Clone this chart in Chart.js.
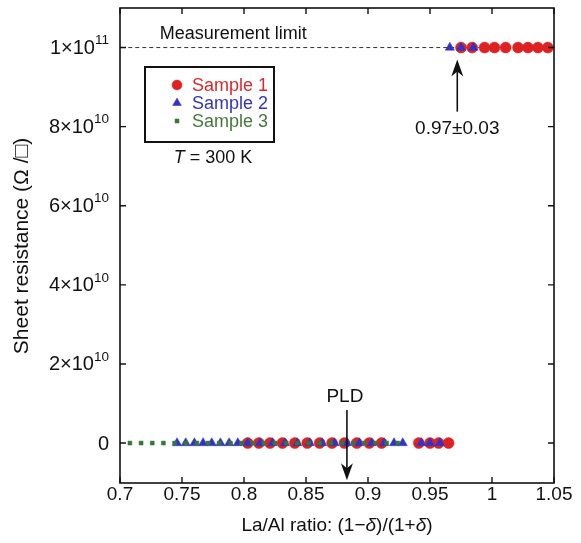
<!DOCTYPE html>
<html><head><meta charset="utf-8">
<script src="https://cdn.jsdelivr.net/npm/chart.js@4/dist/chart.umd.min.js"></script>
<style>html,body{margin:0;padding:0;background:#fff}#wrap{width:581px;height:543px;position:relative}</style>
</head><body><div id="wrap"><canvas id="c" width="581" height="543"></canvas></div>
<script>
// ---- data ----
const xTicks = [0.7, 0.75, 0.8, 0.85, 0.9, 0.95, 1, 1.05];
const xTickLabels = ['0.7', '0.75', '0.8', '0.85', '0.9', '0.95', '1', '1.05'];
const yTicks = [0, 2e10, 4e10, 6e10, 8e10, 1e11];
const yTickMantissa = ['0', '2×10', '4×10', '6×10', '8×10', '1×10'];
const yTickExponent = ['', '10', '10', '10', '10', '11'];

const sample1X = [0.803, 0.812, 0.821, 0.831, 0.841, 0.851, 0.861, 0.871, 0.881, 0.891, 0.901, 0.911, 0.941, 0.950, 0.957, 0.965,
                  0.975, 0.984, 0.994, 1.002, 1.011, 1.021, 1.029, 1.037, 1.045];
const sample1Y = [0, 0, 0, 0, 0, 0, 0, 0, 0, 0, 0, 0, 0, 0, 0, 0,
                  1e11, 1e11, 1e11, 1e11, 1e11, 1e11, 1e11, 1e11, 1e11];
const sample2X = [0.746, 0.753, 0.760, 0.767, 0.774, 0.781, 0.788, 0.795, 0.803, 0.813, 0.823, 0.833, 0.843, 0.853, 0.863,
                  0.873, 0.883, 0.893, 0.903, 0.913, 0.921, 0.928, 0.943, 0.950, 0.958,
                  0.966, 0.975, 0.985];
const sample2Y = [0, 0, 0, 0, 0, 0, 0, 0, 0, 0, 0, 0, 0, 0, 0,
                  0, 0, 0, 0, 0, 0, 0, 0, 0, 0,
                  1e11, 1e11, 1e11];
const sample3X = [0.708, 0.717, 0.726, 0.735, 0.744, 0.753, 0.762, 0.771, 0.780, 0.789, 0.798, 0.807, 0.816, 0.825,
                  0.834, 0.843, 0.852, 0.861, 0.870, 0.879, 0.888, 0.897, 0.906, 0.915, 0.924];
const sample3Y = [0, 0, 0, 0, 0, 0, 0, 0, 0, 0, 0, 0, 0, 0, 0, 0, 0, 0, 0, 0, 0, 0, 0, 0, 0];

const limitX = [0.701, 1.05];
const limitY = [1e11, 1e11];
const limitLabel = 'Measurement limit';
const pldArrow = {x: 0.883, yFrom: 8.35e9, yTo: -9.4e9, label: 'PLD'};
const ratioArrow = {x: 0.972, yFrom: 8.38e10, yTo: 9.7e10, label: '0.97±0.03'};
const seriesNames = ['Sample 1', 'Sample 2', 'Sample 3'];
const seriesColors = ['rgb(222,34,34)', 'rgb(50,50,200)', 'rgb(52,120,52)'];
const legendTextColors = ['rgb(212,44,44)', 'rgb(52,52,192)', 'rgb(70,120,60)'];

const zip = (xs, ys) => xs.map((x, i) => ({x: x, y: ys[i]}));
const FONT = '"Liberation Sans", Arial, Helvetica, sans-serif';

function drawRuns(ctx, runs, size, cx, cy, color) {
  ctx.save();
  ctx.fillStyle = color || '#111';
  ctx.textBaseline = 'middle';
  ctx.textAlign = 'left';
  let w = 0;
  runs.forEach(r => { ctx.font = (r[1] ? 'italic ' : '') + size + 'px ' + FONT; w += ctx.measureText(r[0]).width; });
  let x = cx - w / 2;
  runs.forEach(r => { ctx.font = (r[1] ? 'italic ' : '') + size + 'px ' + FONT; ctx.fillText(r[0], x, cy); x += ctx.measureText(r[0]).width; });
  ctx.restore();
}

function arrow(ctx, x, y1, y2) {
  const dir = y2 > y1 ? 1 : -1;
  ctx.save();
  ctx.strokeStyle = '#111'; ctx.fillStyle = '#111'; ctx.lineWidth = 1.6;
  ctx.beginPath(); ctx.moveTo(x, y1); ctx.lineTo(x, y2 - dir * 8); ctx.stroke();
  ctx.beginPath();
  ctx.moveTo(x, y2);
  ctx.lineTo(x - 6, y2 - dir * 17);
  ctx.lineTo(x, y2 - dir * 12);
  ctx.lineTo(x + 6, y2 - dir * 17);
  ctx.closePath(); ctx.fill();
  ctx.restore();
}

const decor = {
  id: 'decor',
  afterDatasetsDraw(chart) {
    const ctx = chart.ctx, a = chart.chartArea;
    const xs = chart.scales.x, ys = chart.scales.y;
    ctx.save();
    // frame
    ctx.strokeStyle = '#111'; ctx.lineWidth = 1.6;
    ctx.strokeRect(a.left, a.top, a.right - a.left, a.bottom - a.top);
    // ticks (inward, all sides)
    ctx.lineWidth = 1.4;
    ctx.beginPath();
    xTicks.forEach(v => {
      const px = xs.getPixelForValue(v);
      ctx.moveTo(px, a.bottom); ctx.lineTo(px, a.bottom - 6);
      ctx.moveTo(px, a.top); ctx.lineTo(px, a.top + 6);
    });
    yTicks.forEach(v => {
      const py = ys.getPixelForValue(v);
      ctx.moveTo(a.left, py); ctx.lineTo(a.left + 6, py);
      ctx.moveTo(a.right, py); ctx.lineTo(a.right - 6, py);
    });
    ctx.stroke();
    // x tick labels
    ctx.fillStyle = '#111';
    ctx.font = '19px ' + FONT;
    ctx.textAlign = 'center'; ctx.textBaseline = 'middle';
    xTicks.forEach((v, i) => ctx.fillText(xTickLabels[i], xs.getPixelForValue(v), a.bottom + 12));
    // y tick labels with superscripts
    yTicks.forEach((v, i) => {
      const py = ys.getPixelForValue(v);
      const right = a.left - 11;
      ctx.textAlign = 'right'; ctx.textBaseline = 'middle';
      if (yTickExponent[i]) {
        ctx.font = '13.5px ' + FONT;
        const ew = ctx.measureText(yTickExponent[i]).width;
        ctx.fillText(yTickExponent[i], right, py - 7);
        ctx.font = '20px ' + FONT;
        ctx.fillText(yTickMantissa[i], right - ew, py + 1);
      } else {
        ctx.font = '20px ' + FONT;
        ctx.fillText(yTickMantissa[i], right, py + 1);
      }
    });
    // axis titles
    drawRuns(ctx, [['La/Al ratio: (1−', false], ['δ', true], [')/(1+', false], ['δ', true], [')', false]], 19, (a.left + a.right) / 2, 526);
    ctx.save();
    ctx.translate(22, 246);
    ctx.rotate(-Math.PI / 2);
    drawRuns(ctx, [['Sheet resistance (Ω /□)', false]], 21, 0, 0);
    ctx.restore();
    // annotations
    ctx.font = '18px ' + FONT; ctx.textAlign = 'left'; ctx.textBaseline = 'middle'; ctx.fillStyle = '#111';
    ctx.fillText(limitLabel, xs.getPixelForValue(0.732), ys.getPixelForValue(limitY[0]) - 14);
    arrow(ctx, xs.getPixelForValue(pldArrow.x), ys.getPixelForValue(pldArrow.yFrom), ys.getPixelForValue(pldArrow.yTo));
    drawRuns(ctx, [[pldArrow.label, false]], 19, xs.getPixelForValue(pldArrow.x) - 2, ys.getPixelForValue(pldArrow.yFrom) - 13);
    arrow(ctx, xs.getPixelForValue(ratioArrow.x), ys.getPixelForValue(ratioArrow.yFrom), ys.getPixelForValue(ratioArrow.yTo));
    drawRuns(ctx, [[ratioArrow.label, false]], 19, xs.getPixelForValue(ratioArrow.x), ys.getPixelForValue(ratioArrow.yFrom) + 17);
    // legend
    ctx.lineWidth = 2; ctx.strokeStyle = '#111';
    ctx.strokeRect(145, 67, 129, 75);
    const rows = [85, 103, 121];
    const styles = ['circle', 'triangle', 'rect'];
    const radii = [5, 5, 2.8];
    rows.forEach((ry, i) => {
      ctx.fillStyle = seriesColors[i]; ctx.strokeStyle = seriesColors[i]; ctx.lineWidth = 0.5;
      Chart.helpers.drawPoint(ctx, {pointStyle: styles[i], radius: radii[i], borderWidth: 0.5, rotation: 0}, 177, ry);
      ctx.fillStyle = legendTextColors[i];
      ctx.font = '18px ' + FONT; ctx.textAlign = 'left'; ctx.textBaseline = 'middle';
      ctx.fillText(seriesNames[i], 192, ry + 1);
    });
    drawRuns(ctx, [['T', true], [' = 300 K', false]], 18, 213, 158);
    ctx.restore();
  }
};

new Chart(document.getElementById('c'), {
  type: 'scatter',
  data: {
    datasets: [
      {label: 'limit', data: zip(limitX, limitY), showLine: true, borderColor: '#333', borderWidth: 1, borderDash: [4, 3],
       pointRadius: 0, order: 3},
      {label: seriesNames[0], data: zip(sample1X, sample1Y), pointStyle: 'circle', pointRadius: 5.5,
       backgroundColor: seriesColors[0], borderColor: seriesColors[0], borderWidth: 0.5, order: 2},
      {label: seriesNames[1], data: zip(sample2X, sample2Y), pointStyle: 'triangle', pointRadius: 5.3,
       backgroundColor: seriesColors[1], borderColor: seriesColors[1], borderWidth: 0.5, order: 1},
      {label: seriesNames[2], data: zip(sample3X, sample3Y), pointStyle: 'rect', pointRadius: 2.8,
       backgroundColor: seriesColors[2], borderColor: seriesColors[2], borderWidth: 0.5, order: 0}
    ]
  },
  options: {
    responsive: false, animation: false,
    layout: {padding: {left: 120, right: 27, top: 8, bottom: 60}},
    plugins: {legend: {display: false}, tooltip: {enabled: false}},
    scales: {
      x: {type: 'linear', min: 0.7, max: 1.05, display: false},
      y: {type: 'linear', min: -1.01e10, max: 1.1e11, display: false}
    }
  },
  plugins: [decor]
});
</script></body></html>
